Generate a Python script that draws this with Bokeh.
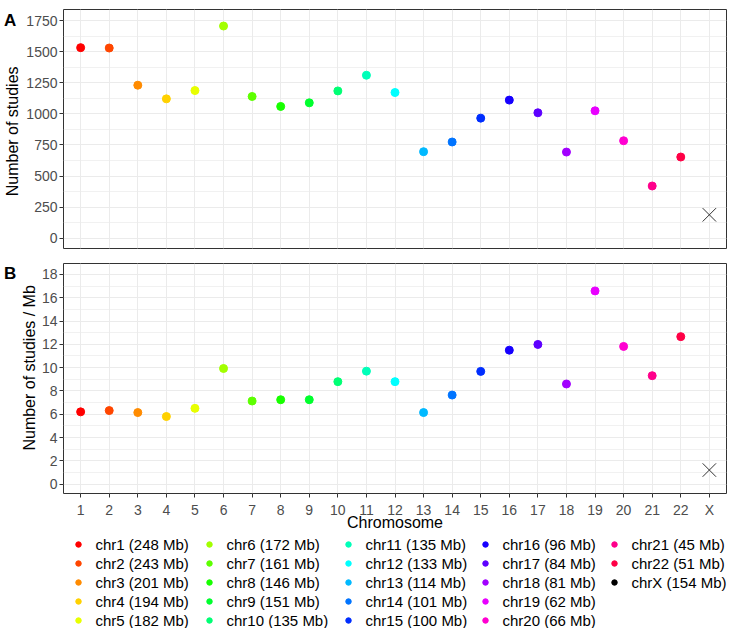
import colorsys
import math
from bokeh.plotting import figure
from bokeh.models import ColumnDataSource, FactorRange, Range1d, FixedTicker
from bokeh.layouts import column, row
from bokeh.embed import file_html
from bokeh.resources import INLINE
from bokeh.core.properties import value

# ---------------- data ----------------
chromosomes = ["1", "2", "3", "4", "5", "6", "7", "8", "9", "10", "11", "12",
               "13", "14", "15", "16", "17", "18", "19", "20", "21", "22", "X"]
size_mb = [248, 243, 201, 194, 182, 172, 161, 146, 151, 135, 135, 133,
           114, 101, 100, 96, 84, 81, 62, 66, 45, 51, 154]
n_studies = [1533, 1530, 1231, 1121, 1188, 1707, 1140, 1060, 1089, 1185, 1311, 1172,
             696, 774, 966, 1111, 1009, 693, 1025, 784, 420, 653, 188]
studies_per_mb = [6.21, 6.32, 6.15, 5.81, 6.51, 9.93, 7.14, 7.25, 7.25, 8.80, 9.70, 8.80,
                  6.15, 7.65, 9.68, 11.50, 11.99, 8.60, 16.58, 11.82, 9.31, 12.66, 1.22]
y1_ticks = [0, 250, 500, 750, 1000, 1250, 1500, 1750]
y2_ticks = [0, 2, 4, 6, 8, 10, 12, 14, 16, 18]
x_title = "Chromosome"
y1_title = "Number of studies"
y2_title = "Number of studies / Mb"
legend_labels = ["chr%s (%d Mb)" % (c, s) for c, s in zip(chromosomes, size_mb)]

# ---------------- style / layout ----------------
FONT = "Liberation Sans"
W = 728            # total width
FRAME_LEFT = 63    # x where both panel frames start
SWA, SWB = 22, 38  # side strips holding the panel letters and y titles
TITLE_XA, TITLE_XB = 11.5, 28.5
GRID = "#EBEBEB"
DARK = "#333333"
TICKTXT = "#4D4D4D"
HA, TOP_A, BOT_A = 252, 9, 4
HB, TOP_B, BOT_B = 281, 11, 37
LH = 628 - HA - HB


def rainbow(n):
    out = []
    for i in range(n):
        r, g, b = colorsys.hsv_to_rgb(i / n, 1, 1)
        out.append("#%02X%02X%02X" % (round(r * 255), round(g * 255), round(b * 255)))
    return out


colors = rainbow(22) + ["#000000"]


def minor_of(ticks):
    step = ticks[1] - ticks[0]
    return [ticks[0] - step / 2] + [t + step / 2 for t in ticks]


def blank_fig(width, height):
    f = figure(width=width, height=height, x_range=Range1d(0, width),
               y_range=Range1d(height, 0), output_backend="svg", toolbar_location=None,
               min_border_left=0, min_border_right=0, min_border_top=0, min_border_bottom=0)
    f.axis.visible = False
    f.grid.visible = False
    f.outline_line_color = None
    f.background_fill_color = "white"
    f.border_fill_color = "white"
    return f


def make_panel(side_w, height, yvals, yrange, ticks, top, bottom, show_x):
    x_range = FactorRange(factors=chromosomes, range_padding=0.1,
                          range_padding_units="absolute")
    p = figure(width=W - side_w, height=height, x_range=x_range,
               y_range=Range1d(*yrange),
               output_backend="svg", toolbar_location=None,
               min_border_left=FRAME_LEFT - side_w, min_border_right=2,
               min_border_top=top, min_border_bottom=bottom)
    p.background_fill_color = "white"
    p.border_fill_color = "white"
    p.outline_line_color = DARK
    p.outline_line_width = 1
    p.outline_line_alpha = 1

    src = ColumnDataSource(dict(x=chromosomes[:22], y=yvals[:22], c=colors[:22]))
    p.scatter("x", "y", source=src, size=8, fill_color="c", line_color="c")
    p.scatter(x=[chromosomes[22]], y=[yvals[22]], marker="x", size=19,
              line_color=DARK, line_width=1)

    p.yaxis.ticker = FixedTicker(ticks=ticks, minor_ticks=minor_of(ticks))
    for ax in p.axis:
        ax.axis_line_color = None
        ax.major_tick_line_color = DARK
        ax.major_tick_out = 4
        ax.major_tick_in = 0
        ax.minor_tick_line_color = None
        ax.major_label_text_font = FONT
        ax.major_label_text_font_size = "14px"
        ax.major_label_text_color = TICKTXT
        ax.major_label_standoff = 2
        ax.axis_label_text_font = FONT
        ax.axis_label_text_font_size = "16px"
        ax.axis_label_text_font_style = "normal"
        ax.axis_label_text_color = "black"
    if show_x:
        p.xaxis.axis_label = x_title
        p.xaxis.major_label_standoff = 4
        p.xaxis.axis_label_standoff = -7
    else:
        p.xaxis.visible = False

    p.xgrid.grid_line_color = GRID
    p.xgrid.grid_line_width = 1
    p.ygrid.grid_line_color = GRID
    p.ygrid.grid_line_width = 1
    p.ygrid.minor_grid_line_color = GRID
    p.ygrid.minor_grid_line_width = 0.7
    return p


def make_side(side_w, height, top, bottom, letter, title, title_x):
    s = blank_fig(side_w, height)
    s.text(x=[3.5], y=[12], text=[letter], text_font=value(FONT), text_font_size="17px",
           text_font_style="bold", text_baseline="middle", text_align="left",
           text_color="black")
    s.text(x=[title_x], y=[(top + height - bottom) / 2], text=[title], angle=math.pi / 2,
           text_font=value(FONT), text_font_size="16px", text_baseline="middle",
           text_align="center", text_color="black")
    return s


pA = make_panel(SWA, HA, n_studies, (-83, 1840), y1_ticks, TOP_A, BOT_A, False)
pB = make_panel(SWB, HB, studies_per_mb, (-0.79, 18.93), y2_ticks, TOP_B, BOT_B, True)
sideA = make_side(SWA, HA, TOP_A, BOT_A, "A", y1_title, TITLE_XA)
sideB = make_side(SWB, HB, TOP_B, BOT_B, "B", y2_title, TITLE_XB)

# ---------------- legend ----------------
pL = blank_fig(W, LH)
col_x = [78, 209, 348, 485, 614]
row0, row_step, per_col = 11, 19, 5
lx, ly, tx = [], [], []
for i in range(len(legend_labels)):
    col, r = divmod(i, per_col)
    lx.append(col_x[col])
    tx.append(col_x[col] + 17)
    ly.append(row0 + r * row_step)
lsrc = ColumnDataSource(dict(x=lx, y=ly, tx=tx, c=colors, t=legend_labels))
pL.scatter("x", "y", source=lsrc, size=5.5, fill_color="c", line_color="c")
pL.text("tx", "y", text="t", source=lsrc, text_font=value(FONT), text_font_size="15px",
        text_baseline="middle", text_align="left", text_color="black")

layout = column(row(sideA, pA, spacing=0), row(sideB, pB, spacing=0), pL, spacing=0)
open("out.html", "w").write(file_html(layout, INLINE))
